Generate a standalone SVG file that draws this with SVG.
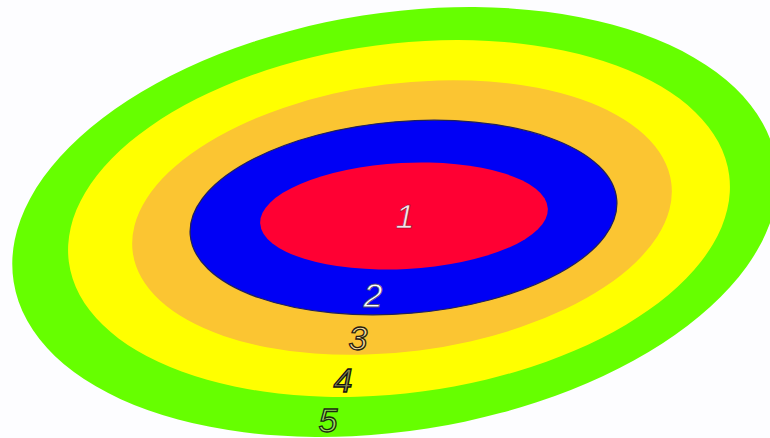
<svg xmlns="http://www.w3.org/2000/svg" width="770" height="438" viewBox="0 0 770 438">
  <style>
    .lbl { font-family: "Liberation Sans", Arial, sans-serif; font-size: 34px; font-style: italic; text-anchor: middle; }
  </style>
  <rect x="0" y="0" width="770" height="438" fill="#fdfdff"/>
  <g id="zone5">
    <ellipse cx="395" cy="222" rx="386" ry="209" transform="rotate(-8.9 395 222)" fill="#66ff00"/>
  </g>
  <g id="zone4">
    <ellipse cx="399" cy="218.5" rx="333" ry="174.5" transform="rotate(-7.5 399 218.5)" fill="#ffff00"/>
  </g>
  <g id="zone3">
    <ellipse cx="402" cy="217.5" rx="271.5" ry="134" transform="rotate(-7.3 402 217.5)" fill="#fbc532"/>
  </g>
  <g id="zone2">
    <ellipse cx="403.5" cy="217.5" rx="214" ry="96" transform="rotate(-4.7 403.5 217.5)" fill="#0000f5" stroke="#20205a" stroke-width="1.2"/>
  </g>
  <g id="zone1">
    <ellipse cx="404" cy="216" rx="144" ry="53" transform="rotate(-3 404 216)" fill="#ff0033"/>
  </g>
  <g id="labels">
    <text class="lbl" x="405" y="228" fill="#f4e4ea" stroke="#8a0022" stroke-width="0.6">1</text>
    <text class="lbl" x="373" y="307" fill="#ffffff" stroke="#505070" stroke-width="0.8">2</text>
    <text class="lbl" x="358" y="350" fill="#f2dc9a" stroke="#2a2010" stroke-width="1.3">3</text>
    <text class="lbl" x="343" y="392" fill="#8a8a50" stroke="#111111" stroke-width="1.3">4</text>
    <text class="lbl" x="328" y="432" fill="#9ee060" stroke="#1a2a10" stroke-width="1.3">5</text>
  </g>
</svg>
